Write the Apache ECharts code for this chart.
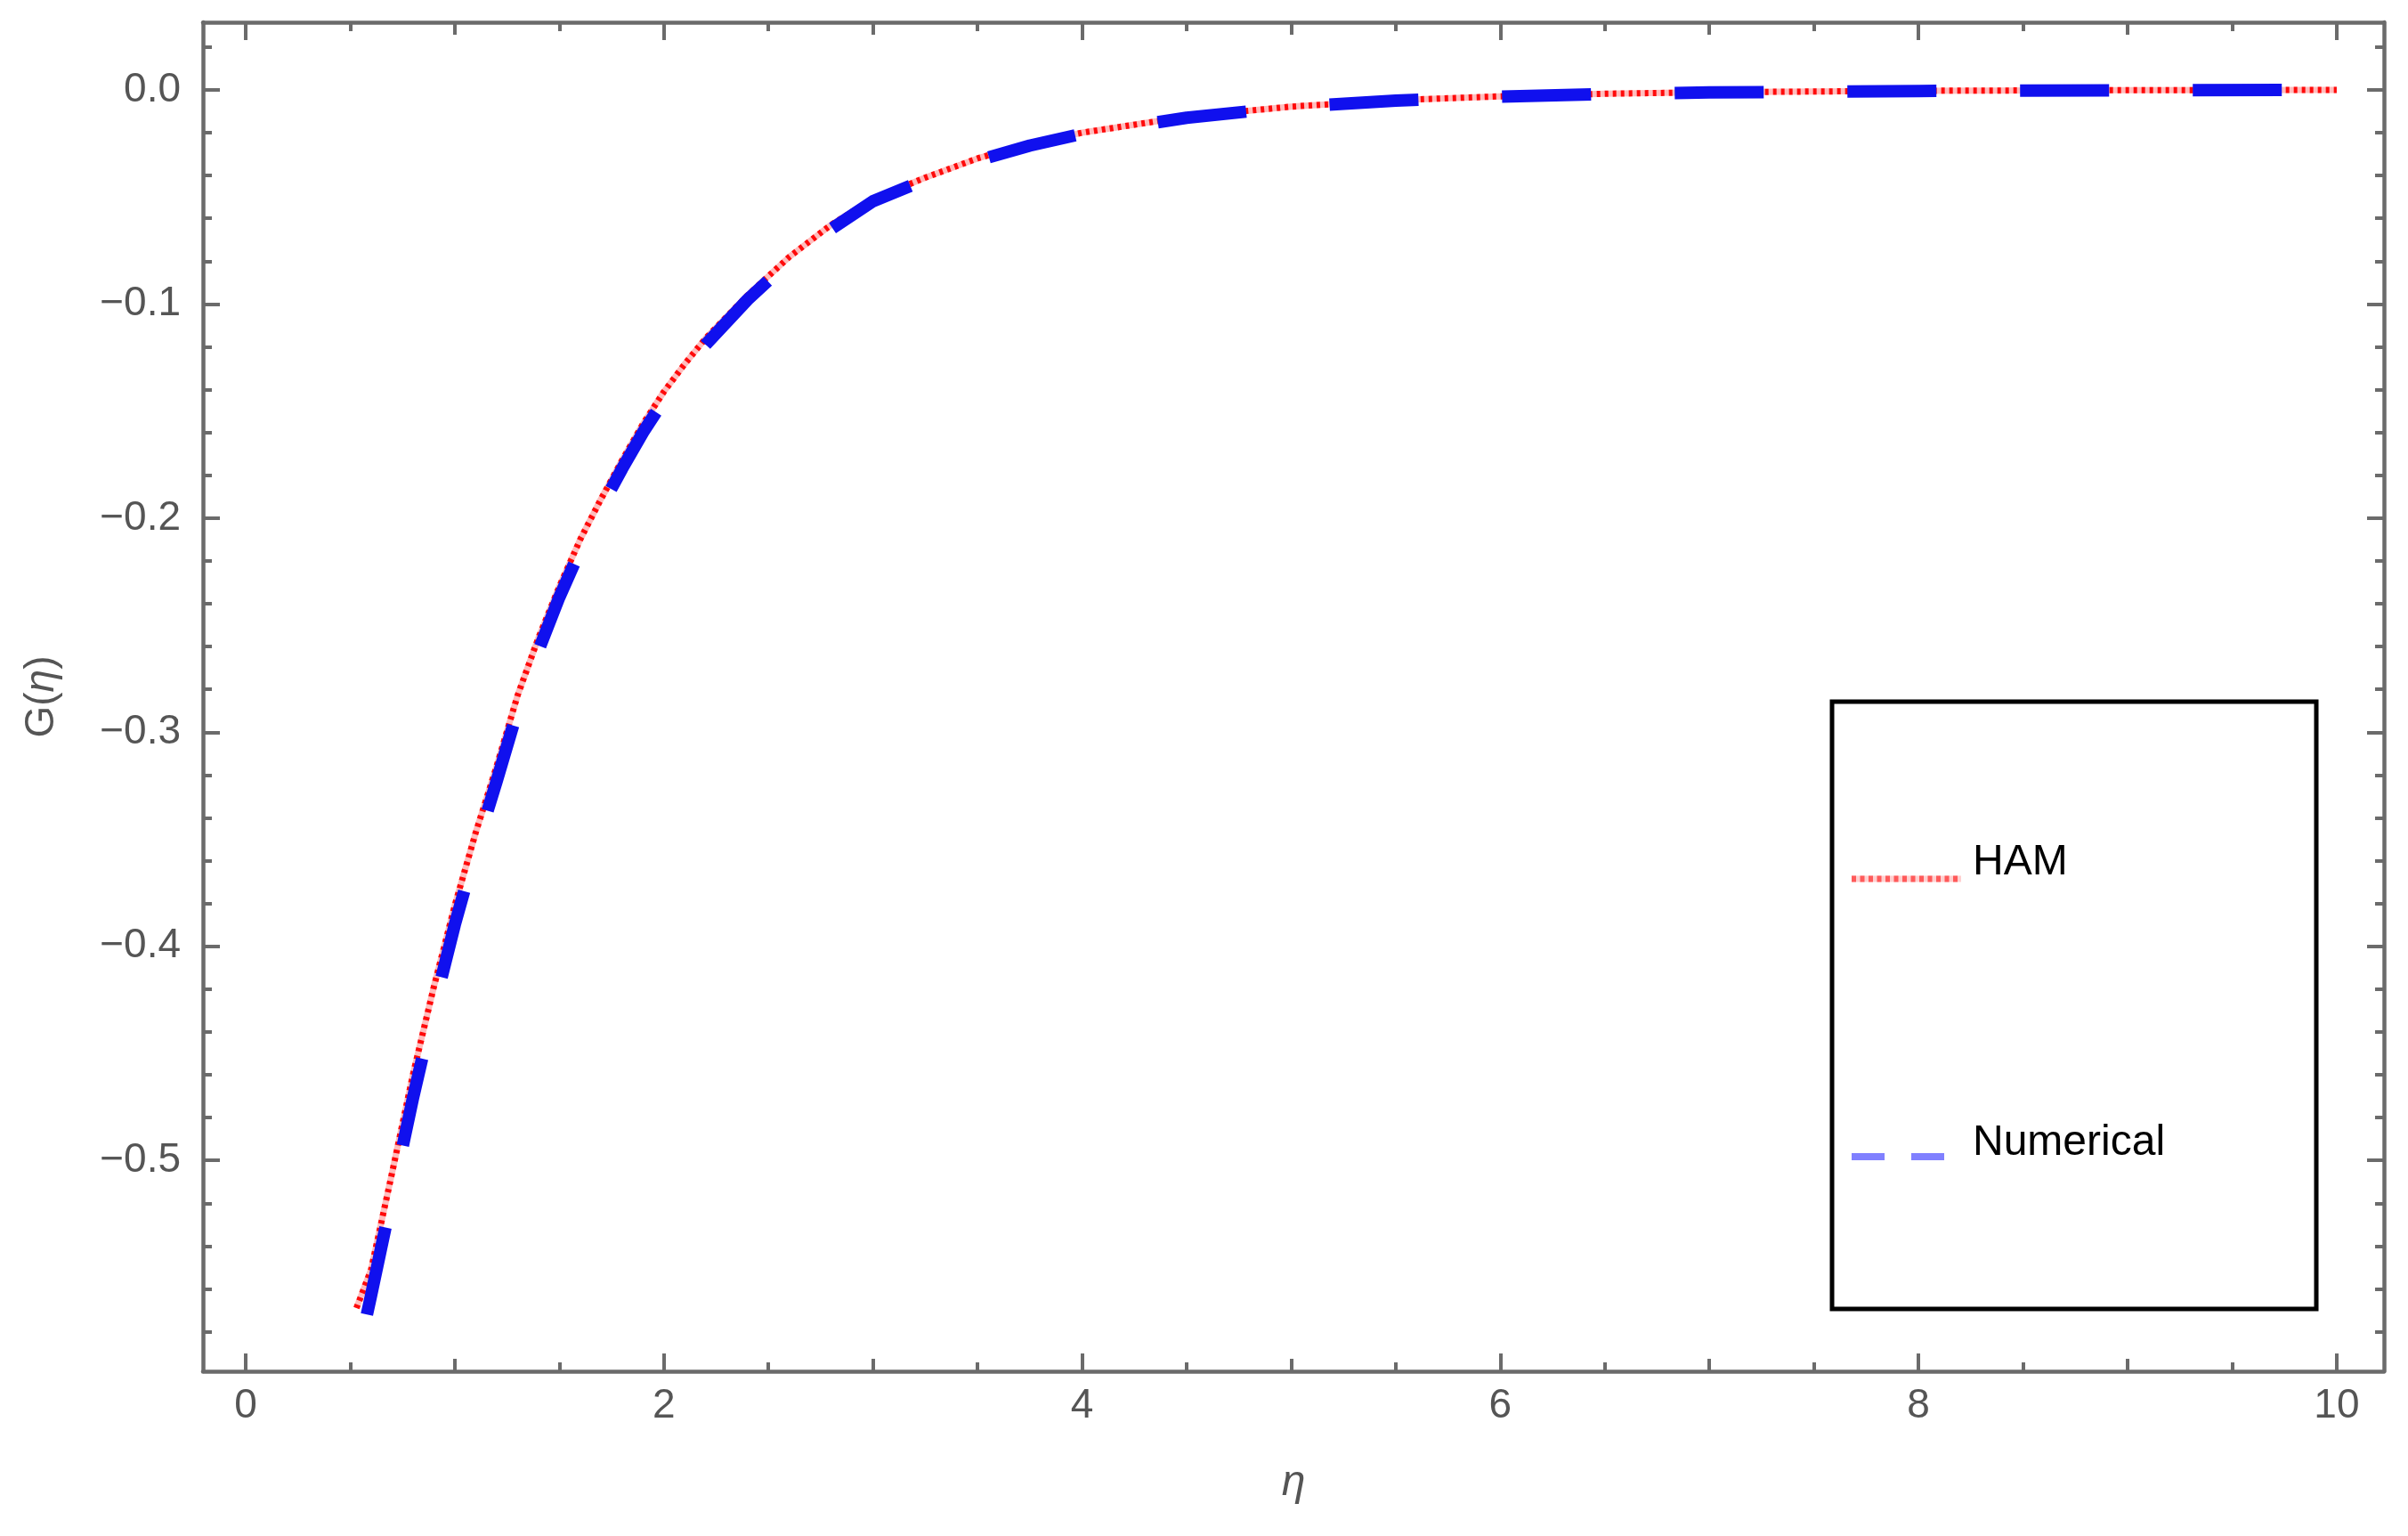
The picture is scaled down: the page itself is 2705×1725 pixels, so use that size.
<!DOCTYPE html>
<html><head><meta charset="utf-8">
<script src="https://cdn.jsdelivr.net/npm/echarts@6/dist/echarts.min.js"></script>
<style>html,body{margin:0;padding:0;background:#fff}#c{width:2705px;height:1725px}</style>
</head><body><div id="c"></div>
<script>
// ---- data ----
const hamEta = [0.53, 0.6, 0.7, 0.8, 0.9, 1.0, 1.1, 1.2, 1.3, 1.4, 1.5, 1.6, 1.7, 1.8, 1.9, 2.0, 2.1, 2.2, 2.4, 2.6, 2.8, 3.0, 3.25, 3.5, 3.75, 4.0, 4.5, 5.0, 5.5, 6.0, 6.5, 7.0, 8.0, 9.0, 10.0];
const hamG   = [-0.569, -0.551, -0.506, -0.460, -0.419, -0.381, -0.347, -0.316, -0.283, -0.256, -0.232, -0.210, -0.191, -0.173, -0.156, -0.141, -0.128, -0.116, -0.096, -0.078, -0.063, -0.051, -0.041, -0.032, -0.025, -0.020, -0.0125, -0.0078, -0.0048, -0.003, -0.0018, -0.0011, -0.0004, -0.0001, 0.0];
const numEta = [0.58, 0.6, 0.7, 0.8, 0.9, 1.0, 1.1, 1.2, 1.3, 1.4, 1.5, 1.6, 1.7, 1.8, 1.9, 2.0, 2.1, 2.2, 2.4, 2.6, 2.8, 3.0, 3.25, 3.5, 3.75, 4.0, 4.5, 5.0, 5.5, 6.0, 6.5, 7.0, 8.0, 9.0, 10.0];
const numG   = [-0.572, -0.563, -0.517, -0.471, -0.429, -0.390, -0.355, -0.323, -0.290, -0.262, -0.237, -0.215, -0.195, -0.177, -0.160, -0.145, -0.131, -0.119, -0.098, -0.080, -0.065, -0.052, -0.042, -0.033, -0.026, -0.0205, -0.013, -0.008, -0.005, -0.0031, -0.0019, -0.0012, -0.0005, -0.0002, 0.0];

const xMajorTicks = [0, 2, 4, 6, 8, 10];
const xLabels     = ['0', '2', '4', '6', '8', '10'];
const xMidTicks   = [1, 3, 5, 7, 9];
const xMinorTicks = [0.5, 1.5, 2.5, 3.5, 4.5, 5.5, 6.5, 7.5, 8.5, 9.5];
const yMajorTicks = [0, -0.1, -0.2, -0.3, -0.4, -0.5];
const yLabels     = ['0.0', '\u22120.1', '\u22120.2', '\u22120.3', '\u22120.4', '\u22120.5'];
const yMinorTicks = [0.02, -0.02, -0.04, -0.06, -0.08, -0.12, -0.14, -0.16, -0.18, -0.22, -0.24, -0.26, -0.28, -0.32, -0.34, -0.36, -0.38, -0.42, -0.44, -0.46, -0.48, -0.52, -0.54, -0.56, -0.58];
const seriesNames = ['HAM', 'Numerical'];
const xName = '\u03b7';
const yName = ['G(', '\u03b7', ')'];

// ---- chart ----
const FONT = '"Liberation Sans", Arial, sans-serif';
const GRAY = '#6b6b6b';
const XMIN = -0.204, XMAX = 10.226, YMIN = -0.5985, YMAX = 0.0316;

function lookupLabel(vals, labels, v) {
  for (let i = 0; i < vals.length; i++) if (Math.abs(vals[i] - v) < 1e-9) return labels[i];
  return '';
}
function xAxisDef(pos, ticks, len, opts) {
  opts = opts || {};
  return {
    type: 'value', min: XMIN, max: XMAX, position: pos, gridIndex: 0,
    axisLine: { show: !!opts.line, onZero: false, lineStyle: { color: GRAY, width: 4.5 } },
    axisTick: { show: true, inside: true, length: len, customValues: ticks, lineStyle: { color: GRAY, width: 4 } },
    axisLabel: opts.labels ? {
      show: true, customValues: ticks, margin: 16,
      color: '#555', fontFamily: FONT, fontSize: 46,
      formatter: v => lookupLabel(xMajorTicks, xLabels, v)
    } : { show: false },
    splitLine: { show: false },
    name: opts.name || '', nameLocation: 'middle', nameGap: 126,
    nameTextStyle: { color: '#555', fontFamily: FONT, fontSize: 48, fontStyle: 'italic', verticalAlign: 'middle' }
  };
}
function yAxisDef(pos, ticks, len, opts) {
  opts = opts || {};
  const d = {
    type: 'value', min: YMIN, max: YMAX, position: pos, gridIndex: 0,
    axisLine: { show: !!opts.line, onZero: false, lineStyle: { color: GRAY, width: 4.5 } },
    axisTick: { show: true, inside: true, length: len, customValues: ticks, lineStyle: { color: GRAY, width: 4 } },
    axisLabel: opts.labels ? {
      show: true, customValues: ticks, margin: 25,
      color: '#555', fontFamily: FONT, fontSize: 46,
      formatter: v => lookupLabel(yMajorTicks, yLabels, v)
    } : { show: false },
    splitLine: { show: false }
  };
  if (opts.name) {
    d.name = '{n|' + yName[0] + '}{i|' + yName[1] + '}{n|' + yName[2] + '}';
    d.nameLocation = 'middle';
    d.nameGap = 181;
    d.nameRotate = 90;
    d.nameTextStyle = {
      color: '#555', fontFamily: FONT, fontSize: 46, verticalAlign: 'middle',
      rich: {
        n: { color: '#555', fontFamily: FONT, fontSize: 46 },
        i: { color: '#555', fontFamily: FONT, fontSize: 46, fontStyle: 'italic' }
      }
    };
  }
  return d;
}

const toPairs = (xs, ys) => xs.map((x, i) => [x, ys[i]]);

const option = {
  animation: false,
  backgroundColor: '#ffffff',
  grid: { left: 228, top: 25, right: 27, bottom: 185, containLabel: false },
  xAxis: [
    xAxisDef('bottom', xMajorTicks, 20, { line: true, labels: true, name: xName }),
    xAxisDef('bottom', xMidTicks, 14),
    xAxisDef('bottom', xMinorTicks, 10),
    xAxisDef('top', xMajorTicks, 20, { line: true }),
    xAxisDef('top', xMidTicks, 14),
    xAxisDef('top', xMinorTicks, 10)
  ],
  yAxis: [
    yAxisDef('left', yMajorTicks, 19, { line: true, labels: true, name: true }),
    yAxisDef('left', yMinorTicks, 10),
    yAxisDef('right', yMajorTicks, 19, { line: true }),
    yAxisDef('right', yMinorTicks, 10)
  ],
  series: [
    {
      name: seriesNames[0], type: 'line', xAxisIndex: 0, yAxisIndex: 0,
      data: toPairs(hamEta, hamG), showSymbol: false, symbol: 'none', smooth: false,
      lineStyle: { color: '#ffbdbd', width: 7, join: 'round' }, z: 2, silent: true
    },
    {
      name: seriesNames[0], type: 'line', xAxisIndex: 0, yAxisIndex: 0,
      data: toPairs(hamEta, hamG), showSymbol: false, symbol: 'none', smooth: false,
      lineStyle: { color: '#ff0a0a', width: 7, type: [4, 5], join: 'round' }, z: 3
    },
    {
      name: seriesNames[1], type: 'line', xAxisIndex: 0, yAxisIndex: 0,
      data: toPairs(numEta, numG), showSymbol: false, symbol: 'none', smooth: false,
      lineStyle: { color: '#1010ee', width: 14, type: [100, 94], join: 'round' }, z: 4
    }
  ],
  graphic: [
    { type: 'rect', z: 100, shape: { x: 2058, y: 788, width: 544, height: 682 },
      style: { fill: '#ffffff', stroke: '#000000', lineWidth: 5 } },
    { type: 'line', z: 101, shape: { x1: 2080, y1: 987, x2: 2203, y2: 987 },
      style: { stroke: '#ffd0d0', lineWidth: 7 } },
    { type: 'line', z: 102, shape: { x1: 2080, y1: 987, x2: 2203, y2: 987 },
      style: { stroke: '#ff5a5a', lineWidth: 7, lineDash: [5, 4.5] } },
    { type: 'line', z: 101, shape: { x1: 2080, y1: 1299, x2: 2184, y2: 1299 },
      style: { stroke: '#8080ff', lineWidth: 8, lineDash: [37, 30] } },
    { type: 'text', z: 103, x: 2216, y: 969,
      style: { text: seriesNames[0], fill: '#000', font: '48px ' + FONT, align: 'left', verticalAlign: 'middle', textAlign: 'left', textVerticalAlign: 'middle' } },
    { type: 'text', z: 103, x: 2216, y: 1284,
      style: { text: seriesNames[1], fill: '#000', font: '48px ' + FONT, align: 'left', verticalAlign: 'middle', textAlign: 'left', textVerticalAlign: 'middle' } }
  ]
};

const chart = echarts.init(document.getElementById('c'), null, { renderer: 'canvas', width: 2705, height: 1725 });
chart.setOption(option);
</script>
</body></html>
